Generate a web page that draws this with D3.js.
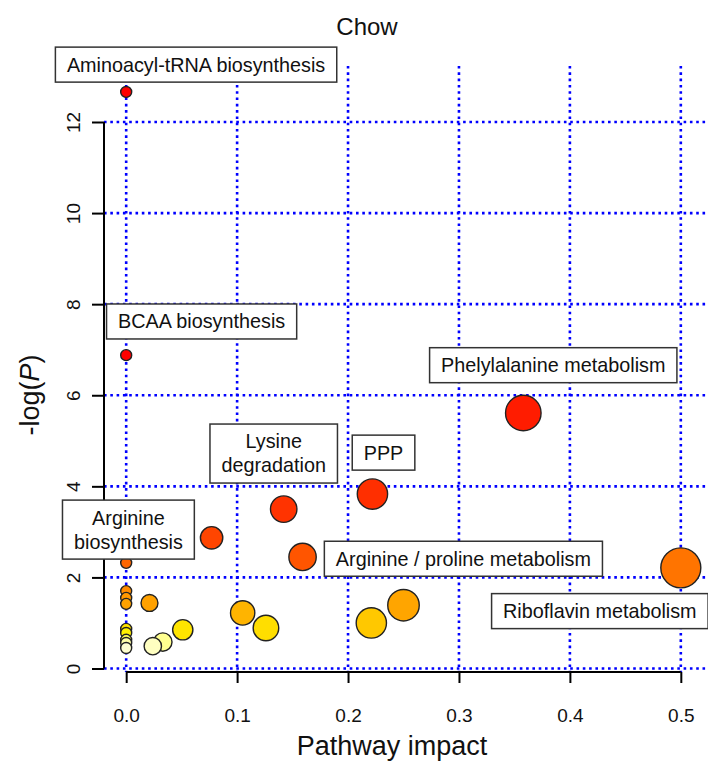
<!doctype html>
<html lang="en">
  <head>
    <meta charset="UTF-8" />
    <title>Chow pathway impact</title>
    <script src="https://cdn.jsdelivr.net/npm/d3@7"></script>
    <style>
      body { margin: 0; background: #fff; }
      text { font-family: "Liberation Sans", Arial, sans-serif; fill: #111; }
    </style>
  </head>
  <body>
    <div id="graph"></div>
    <script>
    // pathway impact (x) and -log(P) (y), one entry per pathway
    var impact = [0, 0, 0.358, 0.222, 0.142, 0.077, 0.159, 0, 0.5, 0, 0, 0.021, 0,
                  0.250, 0.105, 0.221, 0.126, 0, 0.051, 0, 0, 0.033, 0, 0.024, 0];
    var logP   = [12.66, 6.88, 5.61, 3.83, 3.50, 2.87, 2.45, 2.32, 2.21, 1.70, 1.55, 1.44, 1.42,
                  1.39, 1.22, 1.00, 0.89, 0.87, 0.85, 0.78, 0.63, 0.58, 0.56, 0.49, 0.45];

    var xTicks = [0, 0.1, 0.2, 0.3, 0.4, 0.5];
    var yTicks = [0, 2, 4, 6, 8, 10, 12];

    // annotation boxes, centred at (labelX, labelY) in data units
    var labelLines = [["Aminoacyl-tRNA biosynthesis"], ["BCAA biosynthesis"], ["Phelylalanine metabolism"],
                      ["PPP"], ["Lysine", "degradation"], ["Arginine / proline metabolism"],
                      ["Riboflavin metabolism"], ["Arginine", "biosynthesis"]];
    var labelX = [0.063, 0.068, 0.385, 0.232, 0.133, 0.304, 0.427, 0.002];
    var labelY = [13.26, 7.62, 6.66, 4.74, 4.72, 2.41, 1.26, 3.05];

    var width = 708, height = 763;
    var svg = d3.select("#graph").append("svg")
        .attr("width", width)
        .attr("height", height);

    var x = d3.scaleLinear().domain([-0.02, 0.52]).range([104, 703]);
    var y = d3.scaleLinear().domain([0, 12]).range([668.5, 122]);
    var plotTop = 66, plotBottom = 672;

    // bubble radius follows impact, colour follows -log(P) (heat colours)
    var r = d3.scaleSqrt().domain([0, 0.5]).range([5.5, 20]);
    var color = d3.scaleLinear()
        .domain([0.45, 0.56, 0.63, 0.78, 0.9, 1.0, 1.22, 1.4, 1.7, 2.21, 2.45, 2.9, 3.5, 5.6, 6.9])
        .range(["#ffffd0", "#ffffa8", "#ffff55", "#fff000", "#ffdc00", "#ffc800", "#ffb400", "#ffa400",
                "#ff8c00", "#ff7400", "#ff5500", "#ff4400", "#ff3300", "#ff1c00", "#ff0000"])
        .clamp(true);

    // dotted blue grid
    var grid = svg.append("g")
        .attr("stroke", "#0000ff")
        .attr("stroke-width", 2.6)
        .attr("stroke-dasharray", "2.6 3.7");
    grid.selectAll(".hgrid").data(yTicks).enter().append("line")
        .attr("x1", 104).attr("x2", width)
        .attr("y1", d => y(d)).attr("y2", d => y(d));
    grid.selectAll(".vgrid").data(xTicks).enter().append("line")
        .attr("x1", d => x(d)).attr("x2", d => x(d))
        .attr("y1", plotTop).attr("y2", plotBottom);

    // axes, R style
    var xAxis = svg.append("g")
        .attr("transform", "translate(0," + plotBottom + ")")
        .call(d3.axisBottom(x).tickValues(xTicks).tickFormat(d3.format(".1f")).tickSizeInner(11).tickSizeOuter(0).tickPadding(26));
    xAxis.select(".domain").attr("d", "M" + x(0) + ",0H" + x(0.5));
    var yAxis = svg.append("g")
        .attr("transform", "translate(104,0)")
        .call(d3.axisLeft(y).tickValues(yTicks).tickSizeInner(12).tickSizeOuter(0));
    yAxis.select(".domain").attr("d", "M0," + y(0) + "V" + y(12));
    svg.selectAll(".domain, .tick line").attr("stroke", "#000").attr("stroke-width", 2);
    xAxis.selectAll("text").attr("font-size", 19).attr("fill", "#222");
    yAxis.selectAll(".tick text")
        .attr("font-size", 19).attr("fill", "#222")
        .attr("x", null).attr("dy", null)
        .attr("text-anchor", "middle")
        .attr("transform", "translate(-31,0) rotate(-90)")
        .attr("dy", "0.35em");

    // bubbles, lowest -log(P) drawn last
    var order = d3.range(impact.length).sort((a, b) => logP[b] - logP[a]);
    svg.append("g").selectAll("circle").data(order).enter().append("circle")
        .attr("cx", i => x(impact[i]))
        .attr("cy", i => y(logP[i]))
        .attr("r", i => r(impact[i]))
        .attr("fill", i => color(logP[i]))
        .attr("stroke", "#222")
        .attr("stroke-width", 1.4);

    // annotation boxes
    var fontSize = 19.8, lineH = 24, pad = 11.5;
    var lab = svg.append("g").selectAll("g").data(labelLines).enter().append("g")
        .attr("transform", (d, i) => "translate(" + x(labelX[i]) + "," + y(labelY[i]) + ")");
    lab.each(function(lines) {
        var g = d3.select(this);
        var rect = g.append("rect");
        var t = g.append("text")
            .attr("text-anchor", "middle")
            .attr("font-size", fontSize);
        lines.forEach(function(line, k) {
            t.append("tspan")
                .attr("x", 0)
                .attr("y", (k - (lines.length - 1) / 2) * lineH)
                .attr("dy", "0.35em")
                .text(line);
        });
        var w = d3.max(t.selectAll("tspan").nodes(), n => n.getComputedTextLength());
        var h = lines.length * lineH + 11;
        rect.attr("x", -w / 2 - pad).attr("y", -h / 2)
            .attr("width", w + 2 * pad).attr("height", h)
            .attr("fill", "#fff")
            .attr("stroke", "#333")
            .attr("stroke-width", 1.5);
    });

    // titles
    svg.append("text")
        .attr("x", 367).attr("y", 35)
        .attr("text-anchor", "middle")
        .attr("font-size", 24)
        .text("Chow");
    svg.append("text")
        .attr("x", 392).attr("y", 755)
        .attr("text-anchor", "middle")
        .attr("font-size", 27)
        .text("Pathway impact");
    var yt = svg.append("text")
        .attr("transform", "translate(39,395) rotate(-90)")
        .attr("text-anchor", "middle")
        .attr("font-size", 27);
    yt.append("tspan").text("-log(");
    yt.append("tspan").attr("font-style", "italic").text("P");
    yt.append("tspan").text(")");
    </script>
  </body>
</html>
